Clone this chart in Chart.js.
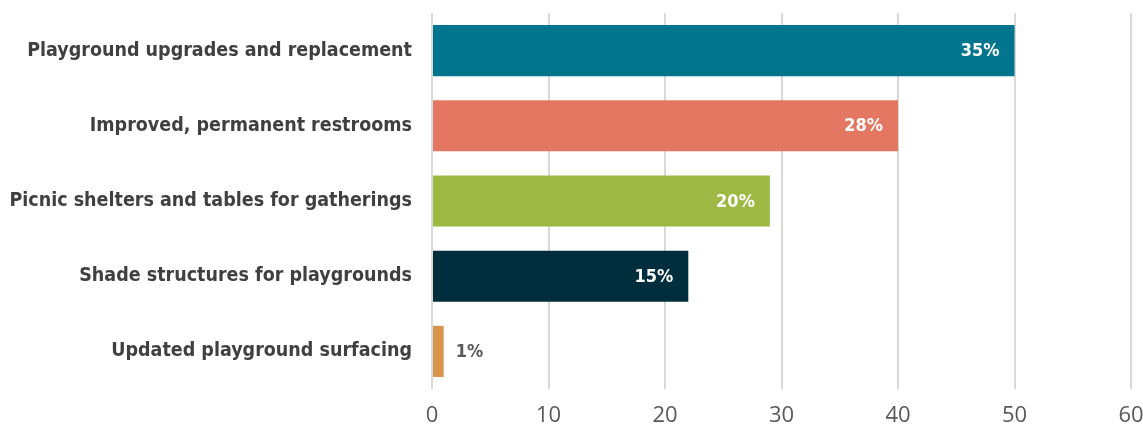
<!DOCTYPE html>
<html>
<head>
<meta charset="utf-8">
<script src="https://cdn.jsdelivr.net/npm/chart.js@4/dist/chart.umd.min.js"></script>
<style>
  html, body { margin: 0; padding: 0; background: #fff; }
  #wrap { width: 1143px; height: 426px; position: relative; }
</style>
</head>
<body>
<div id="wrap"><canvas id="barChart"></canvas></div>
<script>
// categorias y valores
const categorias = [
    'Playground upgrades and replacement',
    'Improved, permanent restrooms',
    'Picnic shelters and tables for gatherings',
    'Shade structures for playgrounds',
    'Updated playground surfacing'
];
const respuestas = [50, 40, 29, 22, 1];
const porcentajes = ['35%', '28%', '20%', '15%', '1%'];
const colores = ['#01758D', '#E47761', '#9DB843', '#012E3D', '#D9954B'];
const ejeX = { min: 0, max: 60, paso: 10 };

const fuenteTexto = "'DejaVu Sans Condensed', 'DejaVu Sans', sans-serif";

// etiquetas de porcentaje sobre cada barra
const etiquetasBarras = {
    id: 'etiquetasBarras',
    afterDatasetsDraw(chart) {
        const ctx = chart.ctx;
        const meta = chart.getDatasetMeta(0);
        ctx.save();
        ctx.font = 'bold 18px ' + fuenteTexto;
        ctx.textBaseline = 'middle';
        meta.data.forEach((bar, i) => {
            const { x, y, base } = bar.getProps(['x', 'y', 'base'], true);
            const txt = porcentajes[i];
            if (x - base > 60) {
                ctx.fillStyle = '#ffffff';
                ctx.textAlign = 'right';
                ctx.fillText(txt, x - 15, y + 1);
            } else {
                ctx.fillStyle = '#595959';
                ctx.textAlign = 'left';
                ctx.fillText(txt, x + 12, y + 1);
            }
        });
        ctx.restore();
    }
};

// sin relleno extra de los ejes
function sinRelleno(scale) {
    scale.paddingTop = 0;
    scale.paddingBottom = 0;
    scale.paddingLeft = 0;
    scale.paddingRight = 0;
}

const ctx = document.getElementById('barChart').getContext('2d');
new Chart(ctx, {
    type: 'bar',
    data: {
        labels: categorias,
        datasets: [{
            data: respuestas,
            backgroundColor: colores,
            borderWidth: 0,
            categoryPercentage: 1,
            barPercentage: 0.68
        }]
    },
    options: {
        indexAxis: 'y',
        responsive: true,
        maintainAspectRatio: false,
        animation: false,
        layout: { padding: { top: 13, right: 12, left: 0, bottom: 0 } },
        plugins: {
            legend: { display: false },
            tooltip: { enabled: false }
        },
        scales: {
            x: {
                min: ejeX.min,
                max: ejeX.max,
                ticks: {
                    stepSize: ejeX.paso,
                    color: '#595959',
                    padding: 14,
                    font: { family: "'Open Sans', sans-serif", size: 22 }
                },
                grid: { color: '#D9D9D9', lineWidth: 2, drawTicks: false },
                border: { display: false },
                afterFit(scale) { scale.height = 37; sinRelleno(scale); }
            },
            y: {
                ticks: {
                    color: '#404040',
                    padding: 12,
                    font: { family: fuenteTexto, size: 19.5, weight: 'bold' }
                },
                grid: { display: false },
                border: { display: false },
                afterFit(scale) { scale.width = 432; sinRelleno(scale); }
            }
        }
    },
    plugins: [etiquetasBarras]
});
</script>
</body>
</html>
